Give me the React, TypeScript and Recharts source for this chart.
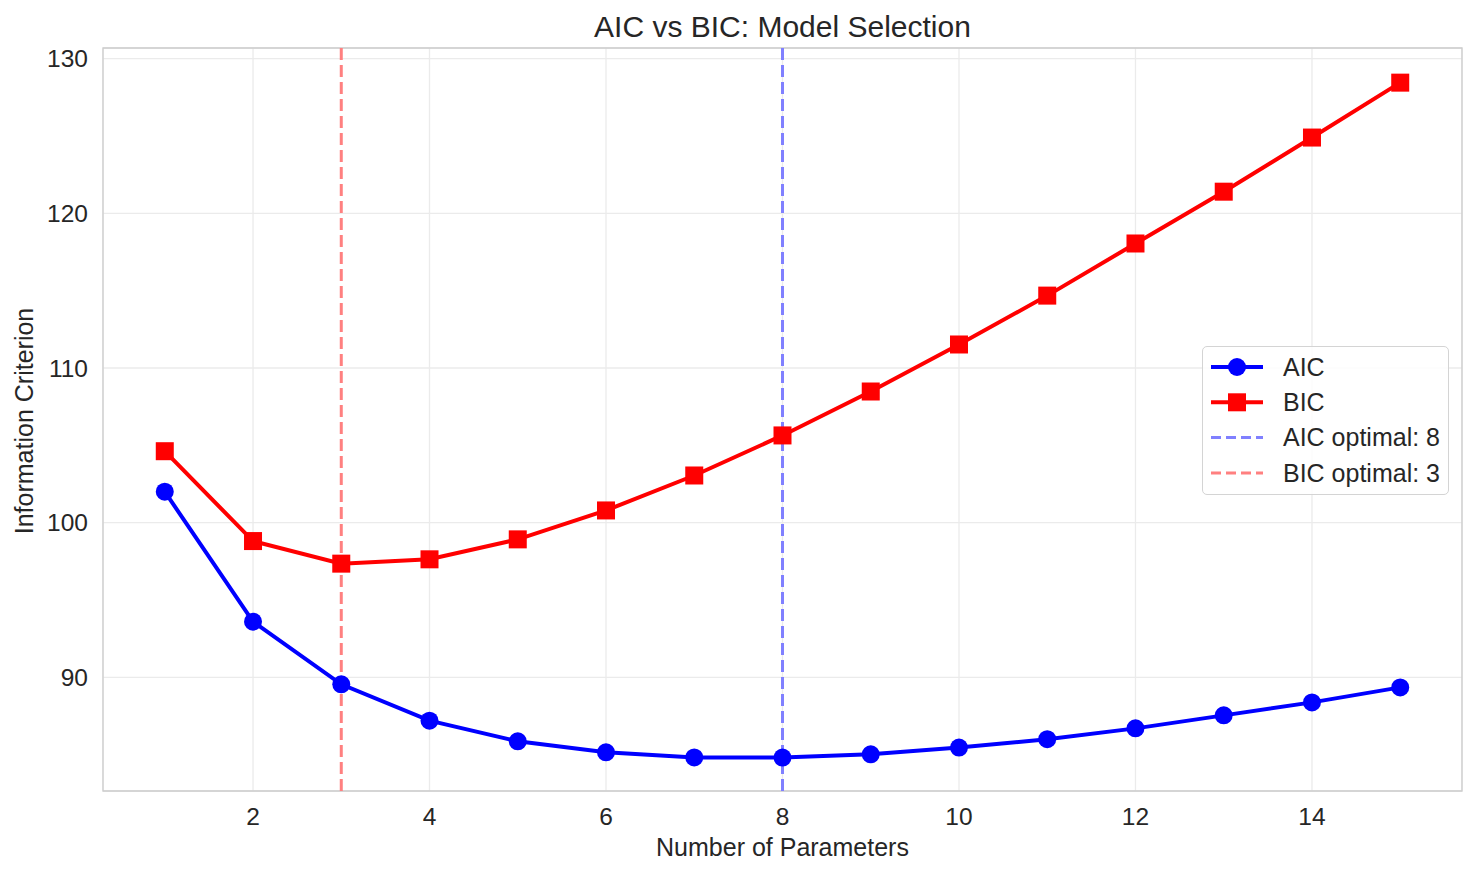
import React from 'react';
import {
  LineChart,
  Line,
  XAxis,
  YAxis,
  CartesianGrid,
  ReferenceLine,
  ReferenceArea,
  Legend,
} from 'recharts';

// number of parameters vs information criteria
const params = [1, 2, 3, 4, 5, 6, 7, 8, 9, 10, 11, 12, 13, 14, 15];
const aicValues = [102.0, 93.6, 89.55, 87.2, 85.86, 85.15, 84.82, 84.81, 85.02, 85.46, 86.0, 86.7, 87.54, 88.38, 89.35];
const bicValues = [104.62, 98.81, 97.35, 97.63, 98.92, 100.79, 103.05, 105.64, 108.48, 111.52, 114.68, 118.05, 121.4, 124.9, 128.45];

const xTicks = [2, 4, 6, 8, 10, 12, 14];
const yTicks = [90, 100, 110, 120, 130];

const aicOptimal = 8;
const bicOptimal = 3;

const legendLabels = ['AIC', 'BIC', `AIC optimal: ${aicOptimal}`, `BIC optimal: ${bicOptimal}`];

const chartData = params.map((p, i) => ({ p, aic: aicValues[i], bic: bicValues[i] }));

const FONT = '"Liberation Sans", Arial, sans-serif';
const TEXT = '#262626';

const tickStyle = { fill: TEXT, fontSize: 24.5, fontFamily: FONT };

function CircleDot(props: any) {
  const { cx, cy, index } = props;
  if (cx == null || cy == null) return null;
  return <circle key={`aic-${index}`} cx={cx} cy={cy} r={9} fill="#0000ff" />;
}

function SquareDot(props: any) {
  const { cx, cy, index } = props;
  if (cx == null || cy == null) return null;
  return <rect key={`bic-${index}`} x={cx - 9} y={cy - 9} width={18} height={18} fill="#ff0000" />;
}

function LegendBox() {
  const rows = [20, 55.3, 90.6, 125.9];
  return (
    <div
      style={{
        width: 247,
        height: 149,
        boxSizing: 'border-box',
        border: '1.3px solid #d4d4d4',
        borderRadius: 5,
        background: 'rgba(255,255,255,0.85)',
      }}
    >
      <svg width={245} height={147} style={{ display: 'block' }}>
        {/* AIC */}
        <line x1={8} x2={60} y1={rows[0]} y2={rows[0]} stroke="#0000ff" strokeWidth={4} />
        <circle cx={34} cy={rows[0]} r={9} fill="#0000ff" />
        {/* BIC */}
        <line x1={8} x2={60} y1={rows[1]} y2={rows[1]} stroke="#ff0000" strokeWidth={4} />
        <rect x={25} y={rows[1] - 9} width={18} height={18} fill="#ff0000" />
        {/* optimal lines */}
        <line x1={8} x2={60} y1={rows[2]} y2={rows[2]} stroke="#8080ff" strokeWidth={3} strokeDasharray="10 5" />
        <line x1={8} x2={60} y1={rows[3]} y2={rows[3]} stroke="#ff8080" strokeWidth={3} strokeDasharray="10 5" />
        {legendLabels.map((label, i) => (
          <text
            key={label}
            x={80}
            y={rows[i] + 8.8}
            fill={TEXT}
            fontSize={25}
            fontFamily={FONT}
          >
            {label}
          </text>
        ))}
      </svg>
    </div>
  );
}

export default function App() {
  return (
    <div
      style={{
        position: 'absolute',
        left: 0,
        top: 0,
        width: 1476,
        height: 876,
        background: '#ffffff',
        fontFamily: FONT,
      }}
    >
      <LineChart
        width={1476}
        height={876}
        data={chartData}
        margin={{ top: 48, right: 14, bottom: 0, left: 0 }}
      >
        <CartesianGrid stroke="#ebebeb" strokeWidth={1.3} />
        <XAxis
          dataKey="p"
          type="number"
          domain={[0.3, 15.7]}
          ticks={xTicks}
          height={85}
          tickSize={0}
          tickMargin={17}
          axisLine={false}
          tick={tickStyle}
          allowDataOverflow
        />
        <YAxis
          type="number"
          domain={[82.65, 130.69]}
          ticks={yTicks}
          width={103}
          tickSize={0}
          tickMargin={15}
          axisLine={false}
          tick={tickStyle}
          allowDataOverflow
        />
        <ReferenceArea
          x1={0.3}
          x2={15.7}
          y1={82.65}
          y2={130.69}
          fill="none"
          fillOpacity={0}
          stroke="#cccccc"
          strokeWidth={1.3}
        />
        <Line
          dataKey="aic"
          stroke="#0000ff"
          strokeWidth={4}
          dot={CircleDot}
          activeDot={false}
          isAnimationActive={false}
        />
        <Line
          dataKey="bic"
          stroke="#ff0000"
          strokeWidth={4}
          dot={SquareDot}
          activeDot={false}
          isAnimationActive={false}
        />
        <ReferenceLine x={aicOptimal} stroke="#8080ff" strokeWidth={3} strokeDasharray="12 5" />
        <ReferenceLine x={bicOptimal} stroke="#ff8080" strokeWidth={3} strokeDasharray="12 5" />
        <Legend
          layout="horizontal"
          align="center"
          verticalAlign="middle"
          content={() => <LegendBox />}
          wrapperStyle={{ left: 1202, top: 346, right: 'auto', bottom: 'auto', width: 247, height: 149 }}
        />
      </LineChart>
      <svg
        width={1476}
        height={876}
        style={{ position: 'absolute', left: 0, top: 0, pointerEvents: 'none' }}
      >
        <text x={782.5} y={37} textAnchor="middle" fill={TEXT} fontSize={30} fontFamily={FONT}>
          AIC vs BIC: Model Selection
        </text>
        <text x={782.5} y={856} textAnchor="middle" fill={TEXT} fontSize={25} fontFamily={FONT}>
          Number of Parameters
        </text>
        <text
          x={33}
          y={421}
          textAnchor="middle"
          fill={TEXT}
          fontSize={25}
          fontFamily={FONT}
          transform="rotate(-90 33 421)"
        >
          Information Criterion
        </text>
      </svg>
    </div>
  );
}
